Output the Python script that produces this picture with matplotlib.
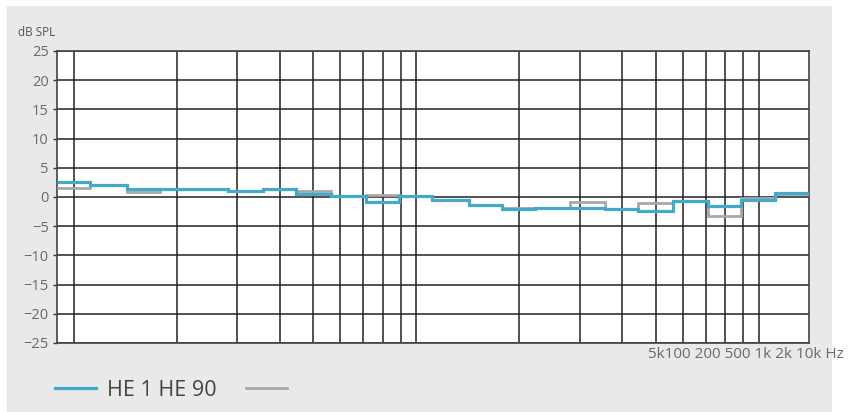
import numpy as np
import matplotlib.pyplot as plt
from matplotlib.patches import Rectangle
from matplotlib.lines import Line2D
from matplotlib.ticker import NullFormatter, NullLocator

plt.rcParams['font.family'] = ['Open Sans', 'DejaVu Sans']

# bandes de tiers d'octave (Hz)
band_centers = [100, 125, 160, 200, 250, 315, 400, 500, 630, 800,
                1000, 1250, 1600, 2000, 2500, 3150, 4000, 5000, 6300, 8000,
                10000, 12500]
# niveaux relevés (dB SPL)
he1 = [2.5, 2.0, 1.45, 1.45, 1.45, 1.05, 1.45, 0.45, 0.15, -0.9,
       0.15, -0.5, -1.4, -2.0, -1.9, -1.9, -2.1, -2.4, -0.6, -1.5,
       -0.5, 0.6]
he90 = [1.6, 2.0, 0.8, 1.45, 1.45, 1.05, 1.45, 1.1, 0.2, 0.4,
        0.15, -0.5, -1.3, -1.8, -1.8, -0.9, -2.0, -1.1, -0.6, -3.2,
        -0.2, 0.5]
series_names = ['HE 1 HE 90', '']

grid_freqs = [100, 200, 300, 400, 500, 600, 700, 800, 900,
              1000, 2000, 3000, 4000, 5000, 6000, 7000, 8000, 9000, 10000]
y_ticks = [-25, -20, -15, -10, -5, 0, 5, 10, 15, 20, 25]
freq_labels = ['100', '200', '500', '1k', '2k', '10k']

centers = np.array(band_centers, dtype=float)
edges = np.append(centers * 2 ** (-1 / 6), centers[-1] * 2 ** (1 / 6))

W, H = 856, 412
fig = plt.figure(figsize=(W / 100, H / 100), dpi=100)
fig.add_artist(Rectangle((7 / W, 0), (832 - 7) / W, 1 - 6 / H,
                         transform=fig.transFigure, facecolor='#e9e9e9',
                         edgecolor='none', zorder=-10))

ax = fig.add_axes([57 / W, 1 - 343 / H, (809 - 57) / W, (343 - 51) / H])
ax.set_facecolor('white')

# courbes en escalier
ax.stairs(he90, edges, baseline=None, color='#a8a8a8', lw=2, zorder=3)
ax.stairs(he1, edges, baseline=None, color='#45a9c9', lw=2.3, zorder=4)

ax.set_xscale('log')
ax.set_xlim(edges[0], edges[-1])
ax.set_ylim(-25, 25)
ax.set_xticks(grid_freqs)
ax.xaxis.set_major_formatter(NullFormatter())
ax.xaxis.set_minor_locator(NullLocator())
ax.xaxis.set_minor_formatter(NullFormatter())
ax.tick_params(axis='x', length=0)
ax.set_yticks(y_ticks)
ax.tick_params(axis='y', length=3, width=1, color='#333', labelsize=10.5,
               labelcolor='#6a6a6a', pad=3)
ax.grid(True, color='#222', lw=1.1)
ax.set_axisbelow(True)
for s in ax.spines.values():
    s.set_color('#444')
    s.set_linewidth(1.2)

fig.text(18 / W, 1 - 33 / H, 'dB SPL', va='center', ha='left',
         fontsize=8.5, color='#555')
fig.text(648 / W, 1 - 355 / H, '5k' + ' '.join(freq_labels) + ' Hz',
         va='center', ha='left', fontsize=11, color='#6a6a6a')

h1 = Line2D([], [], color='#45a9c9', lw=2.3)
h2 = Line2D([], [], color='#a8a8a8', lw=2)
fig.legend([h1, h2], series_names, ncol=2, loc='center left',
           bbox_to_anchor=(55 / W, 1 - 390 / H), frameon=False, fontsize=15.5,
           handlelength=1.9, handletextpad=0.5, columnspacing=1.4,
           borderpad=0, borderaxespad=0, labelcolor='#444')

fig.savefig('out.png', dpi=100)
